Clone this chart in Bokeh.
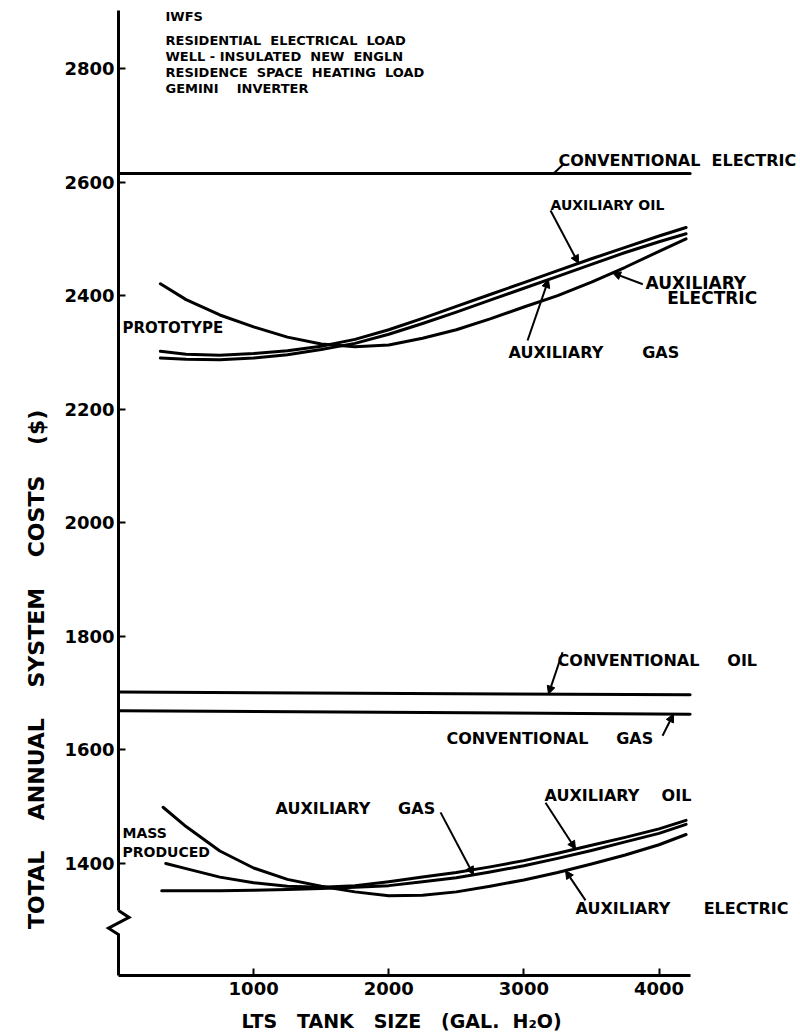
import numpy as np
from bokeh.plotting import figure
from bokeh.models import Label, Arrow, NormalHead, FixedTicker, Range1d
from bokeh.embed import file_html
from bokeh.resources import INLINE

# ---------------- data ----------------
x_ticks = [1000, 2000, 3000, 4000]
y_ticks = [1400, 1600, 1800, 2000, 2200, 2400, 2600, 2800]

# conventional systems (flat lines)
conv_x = [0, 4230]
conv_electric = [2615, 2615]
conv_oil = [1702, 1697]
conv_gas = [1669, 1663]

# prototype LTS systems
proto_x = [310, 500, 750, 1000, 1250, 1500, 1750, 2000, 2250, 2500, 2750,
           3000, 3250, 3500, 3750, 4000, 4200]
proto_oil = [2302, 2297, 2295, 2298, 2303, 2311, 2323, 2340, 2360, 2381, 2402,
             2423, 2444, 2465, 2485, 2505, 2520]
proto_gas = [2290, 2288, 2287, 2290, 2296, 2305, 2316, 2332, 2351, 2371, 2392,
             2413, 2434, 2455, 2476, 2495, 2509]
proto_elec = [2421, 2393, 2366, 2345, 2327, 2315, 2310, 2313, 2325, 2340, 2359,
              2380, 2400, 2424, 2450, 2478, 2500]

# mass-produced LTS systems
mass_oil_x = [350, 500, 750, 1000, 1250, 1500, 1750, 2000, 2250, 2500, 2750,
              3000, 3250, 3500, 3750, 4000, 4200]
mass_oil = [1400, 1391, 1376, 1366, 1360, 1358, 1361, 1368, 1376, 1384, 1394,
            1405, 1418, 1432, 1446, 1461, 1476]
mass_gas_x = [320, 500, 750, 1000, 1250, 1500, 1750, 2000, 2250, 2500, 2750,
              3000, 3250, 3500, 3750, 4000, 4200]
mass_gas = [1352, 1352, 1352, 1353, 1354, 1356, 1358, 1361, 1368, 1375, 1385,
            1396, 1409, 1423, 1438, 1453, 1469]
mass_elec_x = [330, 500, 750, 1000, 1250, 1500, 1750, 2000, 2250, 2500, 2750,
               3000, 3250, 3500, 3750, 4000, 4200]
mass_elec = [1499, 1465, 1422, 1392, 1372, 1360, 1350, 1343, 1344, 1350, 1360,
             1371, 1384, 1399, 1415, 1433, 1451]

title_lines = ["IWFS",
               "RESIDENTIAL  ELECTRICAL  LOAD",
               "WELL - INSULATED  NEW  ENGLN",
               "RESIDENCE  SPACE  HEATING  LOAD",
               "GEMINI    INVERTER"]

FONT = "DejaVu Sans"
Y_BOTTOM = 1202.8

p = figure(width=800, height=1036,
           x_range=Range1d(-873.2, 5046.8), y_range=Range1d(1095.3, 2919.8),
           output_backend="svg", toolbar_location=None,
           min_border_left=0, min_border_right=0,
           min_border_top=0, min_border_bottom=0)
p.outline_line_color = None
p.grid.visible = False
p.background_fill_color = "white"
p.border_fill_color = "white"

for ax in (p.xaxis[0], p.yaxis[0]):
    ax.axis_line_width = 3
    ax.axis_line_color = "black"
    ax.major_tick_line_width = 2
    ax.major_tick_in = 7
    ax.major_tick_out = 0
    ax.minor_tick_line_color = None
    ax.major_label_text_font = FONT
    ax.major_label_text_font_style = "bold"
    ax.major_label_text_font_size = "18px"
    ax.major_label_text_color = "black"

p.xaxis[0].ticker = FixedTicker(ticks=x_ticks)
p.yaxis[0].ticker = FixedTicker(ticks=y_ticks)
p.xaxis[0].fixed_location = Y_BOTTOM
p.yaxis[0].fixed_location = 0
p.xaxis[0].bounds = (0, 4230)
p.yaxis[0].bounds = (1317, 2902)
p.xaxis[0].major_label_standoff = 7
p.yaxis[0].major_label_standoff = 4

LW = 3
for xs, ys in [(conv_x, conv_electric), (conv_x, conv_oil), (conv_x, conv_gas),
               (proto_x, proto_oil), (proto_x, proto_gas), (proto_x, proto_elec),
               (mass_oil_x, mass_oil), (mass_gas_x, mass_gas), (mass_elec_x, mass_elec)]:
    p.line(xs, ys, line_width=LW, line_color="black", line_join="round", line_cap="round")

# lower part of the y axis with the axis-break zig-zag
p.line([0, 78, -74, 0, 0], [1317, 1305, 1286, 1275, Y_BOTTOM], line_width=3,
       line_color="black", line_join="miter")


def label(x, y, text, size="16px", align="left", angle=0.0):
    p.add_layout(Label(x=x, y=y, text=text.replace(" ", "\u00a0"), text_font=FONT,
                       text_font_style="bold", text_font_size=size, text_align=align,
                       text_baseline="middle", text_color="black", angle=angle))


# title block
for yy, line in zip([2891, 2849, 2821, 2793, 2765], title_lines):
    label(348, yy, line, size="13px")

label(3256, 2638, "CONVENTIONAL  ELECTRIC")
label(3197, 2559, "AUXILIARY OIL", size="14px")
label(3900, 2423, "AUXILIARY", size="17px")
label(4060, 2395, "ELECTRIC", size="17px")
label(30, 2343, "PROTOTYPE", size="15px")
label(2886, 2300, "AUXILIARY       GAS")
label(3249, 1757, "CONVENTIONAL     OIL")
label(2427, 1620, "CONVENTIONAL     GAS")
label(3153, 1520, "AUXILIARY    OIL")
label(1162, 1497, "AUXILIARY     GAS")
label(30, 1453, "MASS", size="14px")
label(30, 1420, "PRODUCED", size="14px")
label(3382, 1321, "AUXILIARY      ELECTRIC")

# axis titles
label(2095, 1123, "LTS   TANK   SIZE   (GAL.  H₂O)", size="19px", align="center")
label(-607, 1742, "TOTAL    ANNUAL    SYSTEM    COSTS    ($)", size="22px",
      align="center", angle=np.pi / 2)


# leaders
def leader(x0, y0, xt, xs, ys, head=True):
    yt = float(np.interp(xt, xs, ys))
    end = NormalHead(size=8, fill_color="black", line_color="black") if head else None
    p.add_layout(Arrow(end=end, x_start=x0, y_start=y0, x_end=xt, y_end=yt,
                       line_width=2, line_color="black"))


leader(3286, 2630, 3220, conv_x, conv_electric, head=False)
leader(3197, 2550, 3404, proto_x, proto_oil)
leader(3880, 2420, 3656, proto_x, proto_elec)
leader(3027, 2321, 3182, proto_x, proto_gas)
leader(3286, 1772, 3182, conv_x, conv_oil)
leader(4026, 1625, 4107, conv_x, conv_gas)
leader(3160, 1507, 3382, mass_oil_x, mass_oil)
leader(2383, 1490, 2627, mass_gas_x, mass_gas)
leader(3456, 1335, 3308, mass_elec_x, mass_elec)

open("out.html", "w").write(file_html(p, INLINE))
